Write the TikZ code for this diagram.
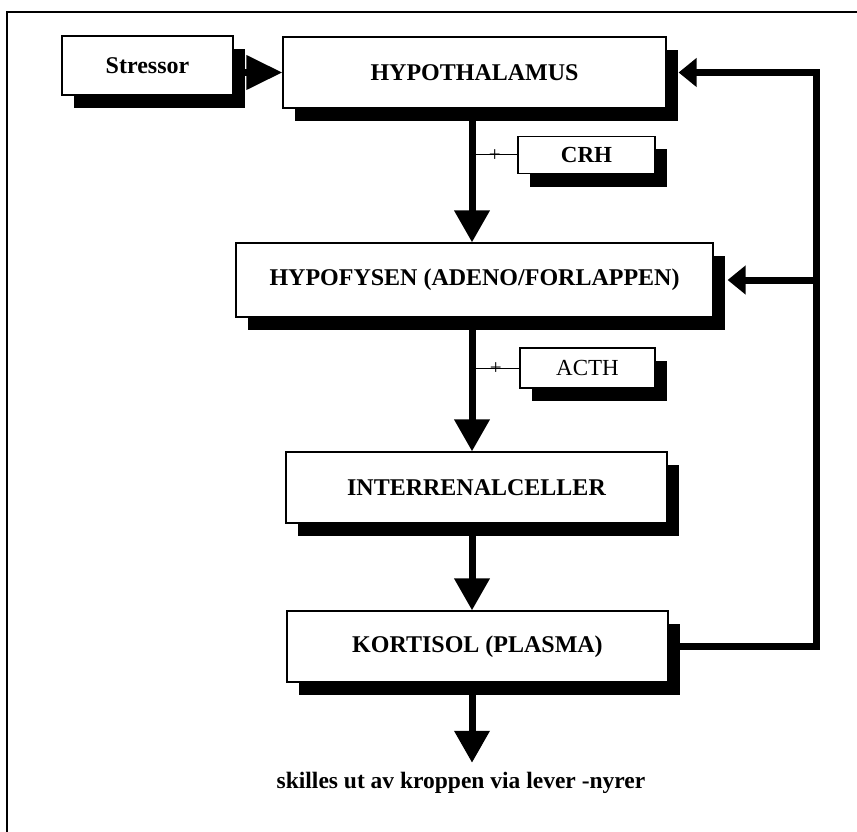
\documentclass[tikz,border=0pt]{standalone}
\usepackage{fontspec}
\setmainfont{Liberation Serif}
\usetikzlibrary{arrows.meta, shadows, positioning}

\begin{document}
\begin{tikzpicture}[x=1pt, y=-1pt,
        box/.style={draw, line width=1.2pt, fill=white, inner sep=0pt,
            font=\fontsize{24}{28}\selectfont\bfseries,
            drop shadow={shadow xshift=12pt, shadow yshift=-13pt, opacity=1, fill=black}},
        small/.style={box, font=\fontsize{23}{26}\selectfont\bfseries},
        fat/.style={line width=7pt, -{Triangle[width=34pt, length=32pt]}},
        fb/.style={line width=7pt, -{Triangle[width=28pt, length=18pt]}},
        branch/.style={line width=1pt},
        plus/.style={font=\fontsize{21}{21}\selectfont, inner sep=0pt}]
        \useasboundingbox (0,0) rectangle (857,832);
        % frame
        \draw[line width=1.5pt] (7,832) -- (7,12) -- (857,12);

        \coordinate (axis) at (472,0);
        \coordinate (fbx) at (816,0);

        \node[box, minimum width=171pt, minimum height=59pt] (stressor) at (147.5,65.5) {Stressor};
        \node[box, minimum width=383pt, minimum height=71pt] (hypo) at (474.5,72.5) {HYPOTHALAMUS};
        \node[small, minimum width=137pt, minimum height=37pt] (crh) at (586.5,155) {CRH};
        \node[box, minimum width=477pt, minimum height=74pt] (hypofysen) at (474.5,280) {HYPOFYSEN (ADENO/FORLAPPEN)};
        \node[small, font=\fontsize{23}{26}\selectfont, minimum width=135pt, minimum height=40pt] (acth) at (587.5,368) {ACTH};
        \node[box, minimum width=381pt, minimum height=71pt] (interrenal) at (476.5,487.5) {INTERRENALCELLER};
        \node[box, minimum width=381pt, minimum height=71pt] (kortisol) at (477.5,646.5) {KORTISOL (PLASMA)};
        \node[font=\fontsize{23.5}{28}\selectfont\bfseries] (ut) at (461,783) {skilles ut av kroppen via lever -nyrer};

        % main chain
        \draw[fat, -{Triangle[width=33pt, length=36pt]}] (stressor.east |- hypo.west) -- (hypo.west);
        \draw[fat] (hypo.south -| axis) -- (hypofysen.north -| axis);
        \draw[fat] (hypofysen.south -| axis) -- (interrenal.north -| axis);
        \draw[fat] (interrenal.south -| axis) -- (kortisol.north -| axis);
        \draw[fat] (kortisol.south -| axis) -- ([yshift=6pt]ut.north -| axis);

        % hormones
        \draw[branch] (crh.west) -- node[plus, above=-7pt] (p1) {+} (crh.west -| axis);
        \draw[branch] (acth.west) -- node[plus, above=-7pt] (p2) {+} (acth.west -| axis);

        % feedback
        \draw[fb] (kortisol.east) -- (kortisol.east -| fbx) -- (hypo.east -| fbx) -- ([xshift=12pt]hypo.east);
        \draw[fb] (hypofysen.east -| fbx) -- ([xshift=14pt]hypofysen.east);
\end{tikzpicture}
\end{document}
